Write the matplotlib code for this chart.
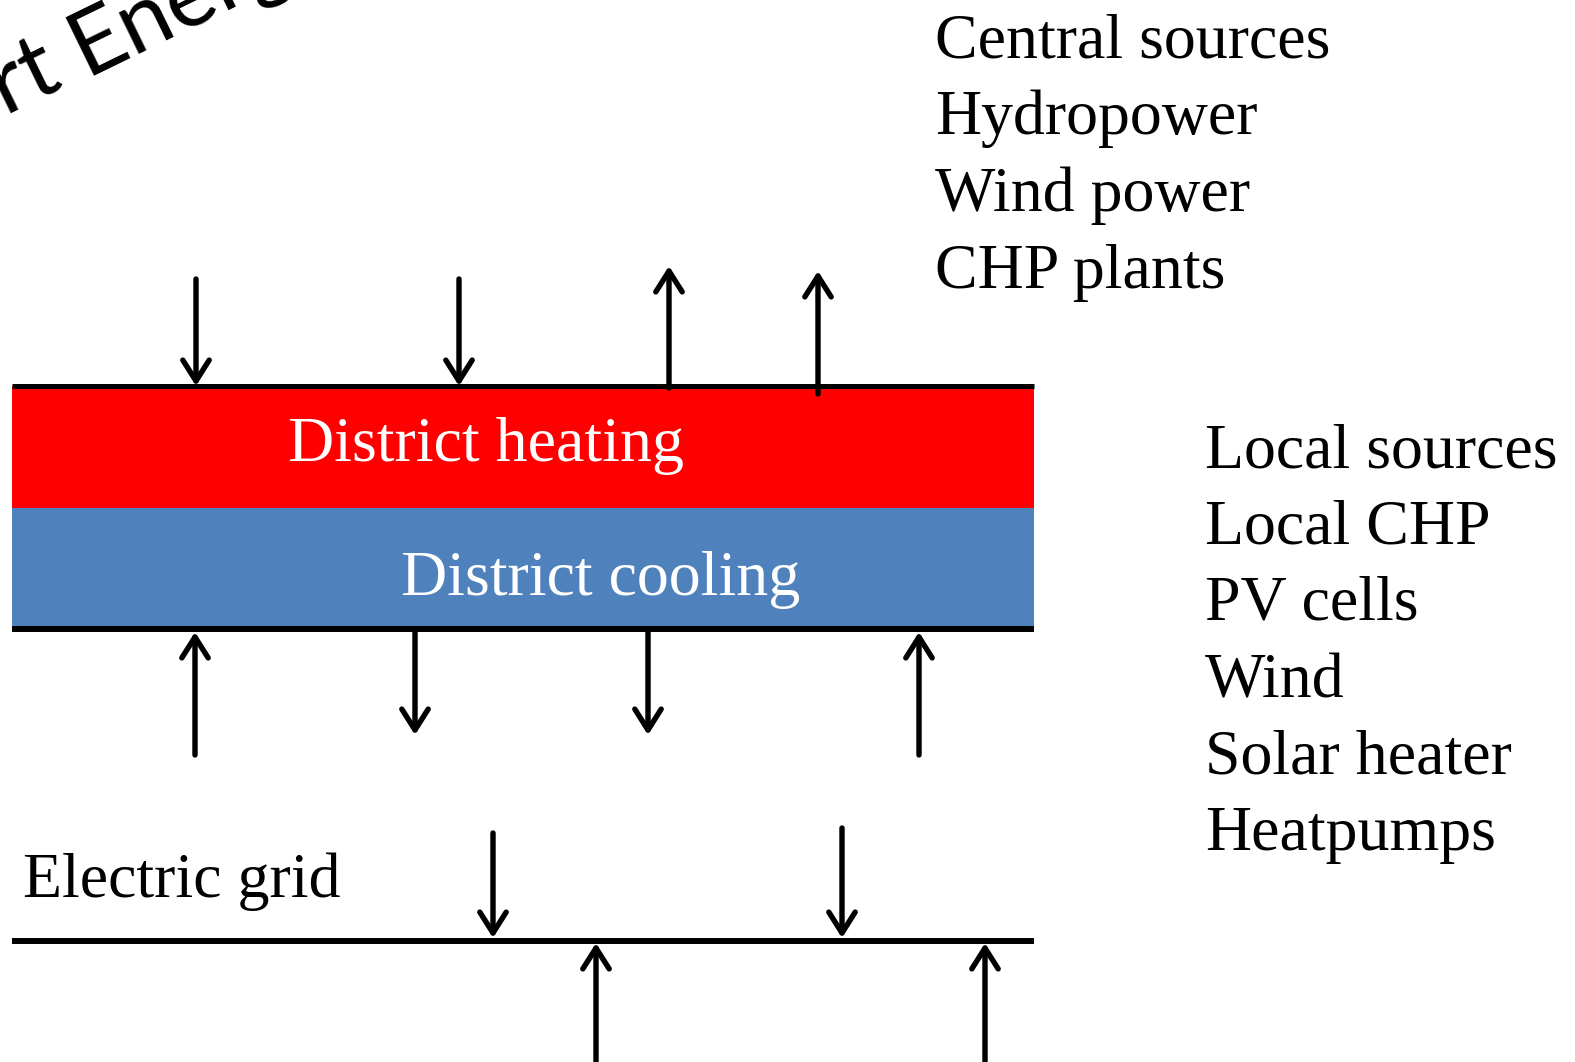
import matplotlib
matplotlib.use("Agg")
import matplotlib.pyplot as plt
from matplotlib.patches import Rectangle, FancyArrowPatch

# ---- data ----
central_items = ["Central sources", "Hydropower", "Wind power", "CHP plants"]
central_baselines = [57, 134, 211, 288]
local_items = ["Local sources", "Local CHP", "PV cells", "Wind", "Solar heater", "Heatpumps"]
local_baselines = [467, 543, 620, 697, 774, 850]

# arrows: (x, y_start, y_end)
top_arrows = [(196, 279, 386), (459, 279, 386), (669, 388, 266), (818, 394, 271)]
mid_arrows = [(195, 755, 632), (415, 630, 735), (648, 630, 735), (919, 755, 632)]
grid_arrows = [(493, 833, 938), (842, 828, 938), (596, 1062, 943), (985, 1062, 943)]

W, H = 1575, 1062
fig = plt.figure(figsize=(W / 100, H / 100), dpi=100)
ax = fig.add_axes([0, 0, 1, 1])
ax.set_xlim(0, W)
ax.set_ylim(H, 0)
ax.axis("off")

serif = "Liberation Serif"
fs = 46

# bands
ax.add_patch(Rectangle((12, 386), 1022, 122, facecolor="#ff0000", edgecolor="none"))
ax.add_patch(Rectangle((12, 508), 1022, 120, facecolor="#4f81bd", edgecolor="none"))
ax.plot([12, 1034], [386, 386], color="black", lw=3.6, solid_capstyle="butt")
ax.plot([12, 1034], [629, 629], color="black", lw=4.3, solid_capstyle="butt")
ax.plot([12, 1034], [941, 941], color="black", lw=4.3, solid_capstyle="butt")

ax.text(288, 461, "District heating", color="white", fontsize=fs, family=serif, va="baseline", ha="left")
ax.text(401, 595, "District cooling", color="white", fontsize=fs, family=serif, va="baseline", ha="left")
ax.text(23, 897, "Electric grid", color="black", fontsize=fs, family=serif, va="baseline", ha="left")

for t, y in zip(central_items, central_baselines):
    ax.text(935, y, t, fontsize=fs, family=serif, va="baseline", ha="left")
for t, y in zip(local_items, local_baselines):
    ax.text(1205, y, t, fontsize=fs, family=serif, va="baseline", ha="left")

for x, y0, y1 in top_arrows + mid_arrows + grid_arrows:
    a = FancyArrowPatch((x, y0), (x, y1), arrowstyle="->,head_length=1.5,head_width=0.95",
                        mutation_scale=10, lw=3.9, color="black", shrinkA=0, shrinkB=0,
                        capstyle="round", joinstyle="round")
    ax.add_patch(a)

# rotated title (cut off at figure edge)
ang = 26
ax.text(86, 76, "Energy", fontsize=66, family="Lato", rotation=ang, rotation_mode="anchor",
        ha="left", va="baseline")
ax.text(66, 86, "Smart", fontsize=66, family="Lato", rotation=ang, rotation_mode="anchor",
        ha="right", va="baseline")

fig.savefig("out.png", dpi=100)
